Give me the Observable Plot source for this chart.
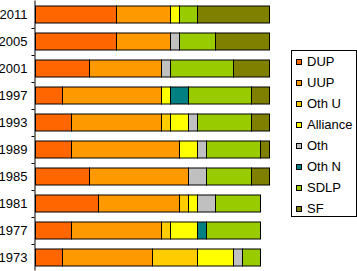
<!DOCTYPE html>
<html>
<head>
<meta charset="utf-8">
<script src="https://cdn.jsdelivr.net/npm/d3@7"></script>
<script src="https://cdn.jsdelivr.net/npm/@observablehq/plot@0.6"></script>
<style>
  html, body { margin: 0; padding: 0; background: #fff; }
  #wrap { position: relative; width: 357px; height: 271px; overflow: hidden; font-family: "Liberation Sans", Arial, sans-serif; }
  #legend { position: absolute; left: 291px; top: 50px; width: 64px; height: 165px; border: 1px solid #000; background: #fff; }
  .item { display: flex; align-items: center; height: 21px; padding-left: 4px; font-size: 13px; color: #000; }
  .sw { width: 4px; height: 4px; border: 1px solid #000; margin-right: 5px; }
</style>
</head>
<body>
<div id="wrap"></div>
<script>
// Categories (top to bottom)
const years = ["2011", "2005", "2001", "1997", "1993", "1989", "1985", "1981", "1977", "1973"];
const parties = ["DUP", "UUP", "Oth U", "Alliance", "Oth", "Oth N", "SDLP", "SF"];
const partyColors = ["#FF6600", "#FF9900", "#FFCC00", "#FFFF00", "#C0C0C0", "#008080", "#99CC00", "#808000"];

// Seats per party, in the order of `years`
const dup      = [9, 9, 6, 3, 4, 4, 6, 7, 4, 3];
const uup      = [6, 6, 8, 11, 10, 12, 11, 9, 10, 10];
const othU     = [0, 0, 0, 0, 1, 0, 0, 1, 1, 5];
const alliance = [1, 0, 0, 1, 2, 2, 0, 1, 3, 4];
const oth      = [0, 1, 1, 0, 1, 1, 2, 2, 0, 1];
const othN     = [0, 0, 0, 2, 0, 0, 0, 0, 1, 0];
const sdlp     = [2, 4, 7, 7, 6, 6, 5, 5, 6, 2];
const sf       = [8, 6, 4, 2, 2, 1, 2, 0, 0, 0];

const series = [dup, uup, othU, alliance, oth, othN, sdlp, sf];

const table = [];
years.forEach((year, i) => {
  parties.forEach((party, j) => {
    const seats = series[j][i];
    if (seats > 0) table.push({year, party, seats});
  });
});

const font = '"Liberation Sans", Arial, sans-serif';

const chart = Plot.plot({
  width: 357,
  height: 271,
  marginLeft: 35.5,
  marginRight: 87.5,
  marginTop: 0.5,
  marginBottom: 0.5,
  style: {background: "#fff", fontFamily: font, fontSize: "13px", color: "#000", overflow: "visible"},
  x: {domain: [0, 26], axis: null},
  y: {domain: years, paddingInner: 10 / 27, paddingOuter: 5 / 27, align: 0.5, label: null},
  color: {domain: parties, range: partyColors},
  marks: [
    Plot.barX(table, Plot.stackX({
      y: "year",
      x: "seats",
      fill: "party",
      stroke: "#000",
      strokeWidth: 1,
      order: null
    })),
    Plot.axisY({tickSize: 3, text: null, dy: 13.5, dx: -1, stroke: "#000", label: null}),
    Plot.axisY({tickSize: 0, tickPadding: 8.5, fontSize: 13, fontFamily: font, fill: "#000", label: null}),
    Plot.ruleX([0], {dx: -1, stroke: "#000"})
  ]
});

const wrap = document.getElementById("wrap");
wrap.appendChild(chart);
chart.style.position = "absolute";
chart.style.left = "0px";
chart.style.top = "0px";

const legend = document.createElement("div");
legend.id = "legend";
parties.forEach((p, j) => {
  const item = document.createElement("div");
  item.className = "item";
  const sw = document.createElement("span");
  sw.className = "sw";
  sw.style.background = partyColors[j];
  const label = document.createElement("span");
  label.textContent = p;
  item.appendChild(sw);
  item.appendChild(label);
  legend.appendChild(item);
});
wrap.appendChild(legend);
</script>
</body>
</html>
